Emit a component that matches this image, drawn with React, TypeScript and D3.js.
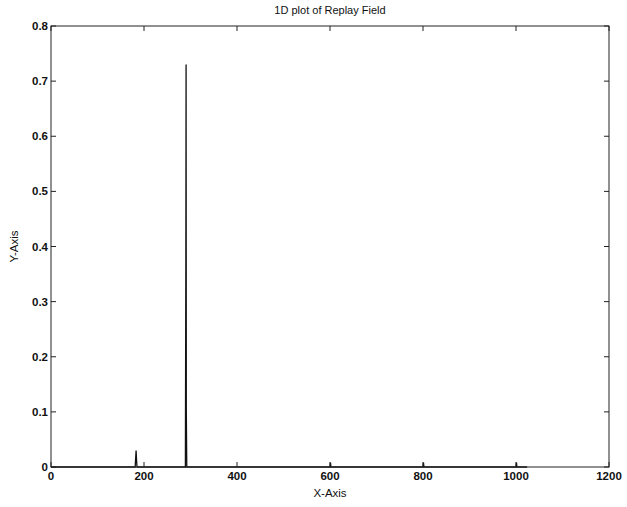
import React from "react";
import * as d3 from "d3";

const xValues = [0, 120, 181, 182, 183, 184, 185, 289, 290, 290.5, 291, 292, 600, 601, 602, 800, 801, 802, 1000, 1001, 1002, 1024];
const yValues = [0, 0, 0, 0.015, 0.03, 0.012, 0, 0, 0.37, 0.73, 0.1, 0, 0, 0.008, 0, 0, 0.008, 0, 0, 0.008, 0, 0];
const xTicks = [0, 200, 400, 600, 800, 1000, 1200];
const yTicks = [0, 0.1, 0.2, 0.3, 0.4, 0.5, 0.6, 0.7, 0.8];
const yTickLabels = ["0", "0.1", "0.2", "0.3", "0.4", "0.5", "0.6", "0.7", "0.8"];
const titleText = "1D plot of Replay Field";
const xLabel = "X-Axis";
const yLabel = "Y-Axis";

const W = 627, H = 507;
const L = 51, R = 609, T = 26, B = 467;

export default function App() {
  const x = d3.scaleLinear().domain([0, 1200]).range([L, R]);
  const y = d3.scaleLinear().domain([0, 0.8]).range([B, T]);
  const pts = xValues.map((v, i) => [v, yValues[i]] as [number, number]);
  const line = d3.line<[number, number]>().x(d => x(d[0])).y(d => y(d[1]));
  const font = "'Liberation Sans', Arial, sans-serif";
  const tl = 5;
  return (
    <svg width={W} height={H} style={{ position: "absolute", left: 0, top: 0, background: "#fff" }} fontFamily={font}>
      <rect x={0} y={0} width={W} height={H} fill="#fff" />
      <text x={(L + R) / 2} y={14} textAnchor="middle" fontSize={11} fill="#111">{titleText}</text>
      <path d={line(pts) || ""} fill="none" stroke="#111" strokeWidth={1.3} />
      <rect x={L} y={T} width={R - L} height={B - T} fill="none" stroke="#222" strokeWidth={1} />
      {xTicks.map(t => (
        <g key={"x" + t}>
          <line x1={x(t)} x2={x(t)} y1={B} y2={B - tl} stroke="#222" />
          <line x1={x(t)} x2={x(t)} y1={T} y2={T + tl} stroke="#222" />
          <text x={x(t)} y={B + 13} textAnchor="middle" fontSize={11.5} fontWeight="bold" fill="#111">{t}</text>
        </g>
      ))}
      {yTicks.map((t, i) => (
        <g key={"y" + t}>
          <line x1={L} x2={L + tl} y1={y(t)} y2={y(t)} stroke="#222" />
          <line x1={R} x2={R - tl} y1={y(t)} y2={y(t)} stroke="#222" />
          <text x={L - 3} y={y(t) + 4} textAnchor="end" fontSize={11.5} fontWeight="bold" fill="#111">{yTickLabels[i]}</text>
        </g>
      ))}
      <text x={(L + R) / 2} y={497} textAnchor="middle" fontSize={11.5} fill="#111">{xLabel}</text>
      <text transform={`translate(18,${(T + B) / 2}) rotate(-90)`} textAnchor="middle" fontSize={11.5} fill="#111">{yLabel}</text>
    </svg>
  );
}
